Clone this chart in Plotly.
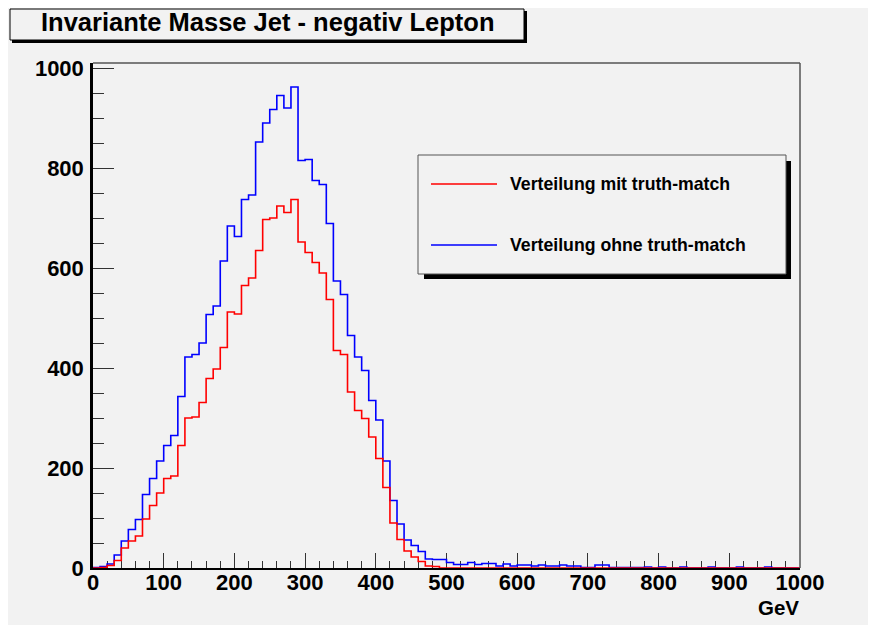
import plotly.graph_objects as go

# ---- data ----
x_min = 0
x_max = 1000
n_bins = 100
red_name = "Verteilung mit truth-match"
blue_name = "Verteilung ohne truth-match"
title_text = "Invariante Masse Jet - negativ Lepton"
x_title = "GeV"

blue_counts = [1, 3, 8, 26, 54, 77, 97, 147, 179, 214,
               245, 265, 343, 422, 427, 450, 507, 524, 614, 684,
               663, 737, 746, 852, 890, 917, 945, 920, 962, 815,
               817, 775, 767, 689, 574, 547, 465, 422, 395, 335,
               296, 214, 135, 88, 56, 45, 33, 18, 17, 17,
               11, 7, 7, 11, 7, 9, 9, 4, 8, 4,
               6, 6, 4, 6, 4, 4, 6, 4, 4, 1,
               1, 6, 6, 1, 1, 1, 1, 1, 2, 0,
               2, 0, 0, 2, 0, 0, 0, 2, 0, 0,
               0, 2, 0, 0, 0, 2, 0, 0, 0, 0]

red_counts = [0, 1, 5, 15, 40, 54, 64, 98, 125, 150,
              179, 184, 245, 300, 302, 331, 379, 398, 441, 512,
              508, 565, 580, 635, 697, 700, 724, 711, 737, 652,
              631, 611, 590, 537, 435, 427, 352, 315, 299, 262,
              219, 161, 90, 57, 34, 22, 13, 4, 3, 0,
              0, 0, 0, 0, 0, 0, 0, 0, 0, 0,
              0, 0, 0, 0, 0, 0, 0, 0, 0, 0,
              0, 0, 0, 0, 0, 0, 0, 0, 0, 0,
              0, 0, 0, 0, 0, 0, 0, 0, 0, 0,
              0, 0, 0, 0, 0, 0, 0, 0, 0, 0]

bin_w = (x_max - x_min) / n_bins
edges = [x_min + i * bin_w for i in range(n_bins + 1)]

# ---- layout geometry (page pixels; figure sits at an 8px page offset) ----
OFF = 8
W, H = 862, 617
L, R, T, B = 93, 800, 63, 568
BG = "#f2f2f2"
FONT = "Liberation Sans, Arial, sans-serif"


def px(x):
    return (x - L) / (R - L)


def py(y):
    return (B - y) / (B - T)


fig = go.Figure()

fig.add_trace(go.Scatter(x=edges, y=blue_counts + [blue_counts[-1]], mode="lines",
                         line=dict(color="#0000ff", width=1.6, shape="hv"),
                         name=blue_name, showlegend=False, cliponaxis=False))
fig.add_trace(go.Scatter(x=edges, y=red_counts + [red_counts[-1]], mode="lines",
                         line=dict(color="#ff0000", width=1.6, shape="hv"),
                         name=red_name, showlegend=False, cliponaxis=False))

shapes = []
# frame top and right (gray)
shapes.append(dict(type="line", xref="paper", yref="paper", x0=0, x1=1, y0=1, y1=1,
                   line=dict(color="#555555", width=1.5)))
shapes.append(dict(type="line", xref="paper", yref="paper", x0=1, x1=1, y0=0, y1=1,
                   line=dict(color="#555555", width=1.5)))

# title box with shadow
shapes.append(dict(type="rect", xref="paper", yref="paper",
                   x0=px(12), x1=px(527), y0=py(11), y1=py(43),
                   fillcolor="#000000", line=dict(width=0)))
shapes.append(dict(type="rect", xref="paper", yref="paper",
                   x0=px(10), x1=px(524), y0=py(9), y1=py(40),
                   fillcolor=BG, line=dict(color="#000000", width=1)))

# legend box with shadow
shapes.append(dict(type="rect", xref="paper", yref="paper",
                   x0=px(424), x1=px(791), y0=py(161), y1=py(279),
                   fillcolor="#000000", line=dict(width=0)))
shapes.append(dict(type="rect", xref="paper", yref="paper",
                   x0=px(418), x1=px(786), y0=py(155), y1=py(274),
                   fillcolor=BG, line=dict(color="#555555", width=1)))
# legend line samples
shapes.append(dict(type="line", xref="paper", yref="paper",
                   x0=px(431), x1=px(497), y0=py(184), y1=py(184),
                   line=dict(color="#ff0000", width=1.5)))
shapes.append(dict(type="line", xref="paper", yref="paper",
                   x0=px(431), x1=px(497), y0=py(245), y1=py(245),
                   line=dict(color="#0000ff", width=1.5)))

annotations = [
    dict(text=title_text, xref="paper", yref="paper", x=px(267), y=py(22),
         xanchor="center", yanchor="middle", showarrow=False,
         font=dict(family=FONT, size=25.5, color="#000000", weight="bold")),
    dict(text=red_name, xref="paper", yref="paper", x=px(508), y=py(184),
         xanchor="left", yanchor="middle", showarrow=False,
         font=dict(family=FONT, size=17.7, color="#000000", weight="bold")),
    dict(text=blue_name, xref="paper", yref="paper", x=px(508), y=py(245),
         xanchor="left", yanchor="middle", showarrow=False,
         font=dict(family=FONT, size=17.7, color="#000000", weight="bold")),
    dict(text=x_title, xref="paper", yref="paper", x=px(801), y=py(607),
         xanchor="right", yanchor="middle", showarrow=False,
         font=dict(family=FONT, size=20.5, color="#000000", weight="bold")),
]

fig.update_layout(
    width=W, height=H,
    margin=dict(l=L - OFF, r=(OFF + W) - R, t=T - OFF, b=(OFF + H) - B, pad=0),
    paper_bgcolor=BG, plot_bgcolor=BG,
    showlegend=False,
    shapes=shapes, annotations=annotations,
    font=dict(family=FONT, color="#000000"),
)

fig.update_xaxes(range=[x_min, x_max], showgrid=False, zeroline=False,
                 showline=True, linecolor="#000000", linewidth=2,
                 ticks="inside", ticklen=15, tickwidth=1, tickcolor="#333333",
                 dtick=100, tick0=0, ticklabelstandoff=-6,
                 minor=dict(ticks="inside", ticklen=7, tickwidth=1,
                            tickcolor="#333333", dtick=20, showgrid=False),
                 tickfont=dict(family=FONT, size=22, color="#000000", weight="bold"),
                 layer="below traces", fixedrange=True)

fig.update_yaxes(range=[0, 1010], showgrid=False, zeroline=False,
                 showline=True, linecolor="#000000", linewidth=2.5,
                 ticks="inside", ticklen=21, tickwidth=1, tickcolor="#333333",
                 dtick=200, tick0=0, ticklabelstandoff=2,
                 minor=dict(ticks="inside", ticklen=11, tickwidth=1,
                            tickcolor="#333333", dtick=50, showgrid=False),
                 tickfont=dict(family=FONT, size=22, color="#000000", weight="bold"),
                 layer="below traces", fixedrange=True)

fig.write_html("out.html")
